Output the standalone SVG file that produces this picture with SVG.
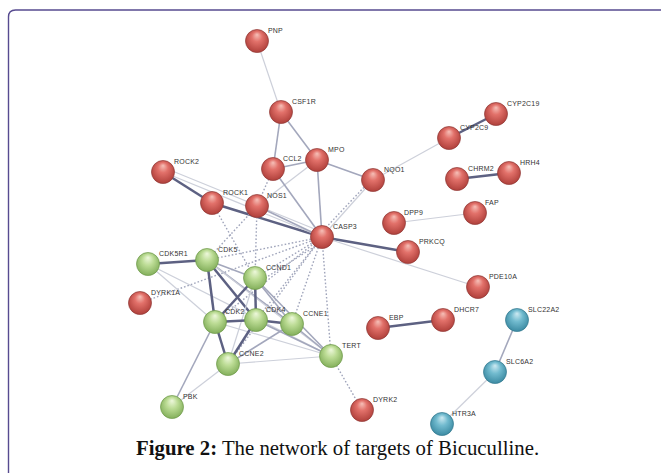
<svg xmlns="http://www.w3.org/2000/svg" width="661" height="473" viewBox="0 0 661 473">
<defs>
<radialGradient id="gr" cx="50%" cy="45%" r="55%" fx="50%" fy="22%">
<stop offset="0%" stop-color="#f6c0b8"/><stop offset="40%" stop-color="#e2716a"/><stop offset="100%" stop-color="#b0403b"/>
</radialGradient>
<radialGradient id="gg" cx="50%" cy="45%" r="55%" fx="50%" fy="22%">
<stop offset="0%" stop-color="#eef8dc"/><stop offset="45%" stop-color="#bcdc95"/><stop offset="100%" stop-color="#84b05c"/>
</radialGradient>
<radialGradient id="gb" cx="50%" cy="45%" r="55%" fx="50%" fy="22%">
<stop offset="0%" stop-color="#cdeaf2"/><stop offset="45%" stop-color="#72bbcf"/><stop offset="100%" stop-color="#3c8ba3"/>
</radialGradient>
</defs>
<style>
.r{fill:url(#gr);stroke:#8f3a36;stroke-width:0.7}
.g{fill:url(#gg);stroke:#6f9a4b;stroke-width:0.7}
.b{fill:url(#gb);stroke:#34788e;stroke-width:0.7}
text.l{font-family:"Liberation Sans",Arial,sans-serif;font-size:7px;fill:#333;letter-spacing:0.2px}
.e1{stroke:#cdd0da;stroke-width:1.2;fill:none}
.e2{stroke:#a3a7bc;stroke-width:1.6;fill:none}
.e3{stroke:#5d6182;stroke-width:2.5;fill:none}
.d{stroke:#a0a5bb;stroke-width:1.4;stroke-dasharray:1.6 2;fill:none}
.cap{font-family:"Liberation Serif","Times New Roman",serif;font-size:20.8px;fill:#111}
</style>
<rect width="661" height="473" fill="#fff"/>
<path d="M8.5,473 V17 Q8.5,10 15.5,10 H661" fill="none" stroke="#574b90" stroke-width="1.4"/>
<g id="connectors">
<line class="e1" x1="257" y1="41" x2="281" y2="112"/>
<line class="e2" x1="281" y1="112" x2="273" y2="169"/>
<line class="e2" x1="281" y1="112" x2="317" y2="160"/>
<line class="e2" x1="273" y1="169" x2="317" y2="160"/>
<line class="e2" x1="317" y1="160" x2="373" y2="180"/>
<line class="e2" x1="317" y1="160" x2="322" y2="237"/>
<line class="e1" x1="317" y1="160" x2="257" y2="206"/>
<line class="e2" x1="273" y1="169" x2="322" y2="237"/>
<line class="d" x1="273" y1="169" x2="257" y2="206"/>
<line class="e1" x1="373" y1="180" x2="322" y2="237"/>
<line class="d" x1="369" y1="182" x2="318" y2="236"/>
<line class="e1" x1="373" y1="180" x2="449" y2="138"/>
<line class="e3" x1="449" y1="138" x2="496" y2="114"/>
<line class="e3" x1="457" y1="179" x2="509" y2="173"/>
<line class="e1" x1="394" y1="223" x2="475" y2="213"/>
<line class="e3" x1="322" y1="237" x2="408" y2="252"/>
<line class="e1" x1="322" y1="237" x2="478" y2="287"/>
<line class="e3" x1="163" y1="172" x2="212" y2="203"/>
<line class="e3" x1="212" y1="203" x2="322" y2="237"/>
<line class="e1" x1="163" y1="172" x2="322" y2="237"/>
<line class="e1" x1="165" y1="168" x2="322" y2="232"/>
<line class="e2" x1="257" y1="206" x2="322" y2="237"/>
<line class="d" x1="212" y1="203" x2="255" y2="278"/>
<line class="d" x1="257" y1="206" x2="255" y2="278"/>
<line class="d" x1="257" y1="206" x2="207" y2="260"/>
<line class="d" x1="207" y1="260" x2="322" y2="237"/>
<line class="d" x1="140" y1="303" x2="322" y2="237"/>
<line class="d" x1="255" y1="278" x2="322" y2="237"/>
<line class="d" x1="259" y1="282" x2="325" y2="240"/>
<line class="d" x1="215" y1="322" x2="322" y2="237"/>
<line class="d" x1="256" y1="320" x2="322" y2="237"/>
<line class="d" x1="292" y1="324" x2="322" y2="237"/>
<line class="d" x1="228" y1="364" x2="322" y2="237"/>
<line class="d" x1="331" y1="356" x2="322" y2="237"/>
<line class="d" x1="331" y1="356" x2="362" y2="410"/>
<line class="e3" x1="148" y1="264" x2="207" y2="260"/>
<line class="e1" x1="148" y1="264" x2="215" y2="322"/>
<line class="e1" x1="148" y1="264" x2="331" y2="356"/>
<line class="e3" x1="207" y1="260" x2="215" y2="322"/>
<line class="e2" x1="207" y1="260" x2="255" y2="278"/>
<line class="e3" x1="207" y1="260" x2="256" y2="320"/>
<line class="e2" x1="207" y1="260" x2="292" y2="324"/>
<line class="e1" x1="207" y1="260" x2="331" y2="356"/>
<line class="e3" x1="255" y1="278" x2="215" y2="322"/>
<line class="e3" x1="255" y1="278" x2="256" y2="320"/>
<line class="e2" x1="255" y1="278" x2="292" y2="324"/>
<line class="e2" x1="255" y1="278" x2="331" y2="356"/>
<line class="e1" x1="255" y1="278" x2="228" y2="364"/>
<line class="e3" x1="215" y1="322" x2="256" y2="320"/>
<line class="e3" x1="256" y1="320" x2="292" y2="324"/>
<line class="e3" x1="215" y1="322" x2="228" y2="364"/>
<line class="e1" x1="215" y1="322" x2="331" y2="356"/>
<line class="e2" x1="215" y1="322" x2="172" y2="407"/>
<line class="e3" x1="256" y1="320" x2="228" y2="364"/>
<line class="e2" x1="256" y1="320" x2="331" y2="356"/>
<line class="e2" x1="292" y1="324" x2="228" y2="364"/>
<line class="e2" x1="292" y1="324" x2="331" y2="356"/>
<line class="e1" x1="228" y1="364" x2="331" y2="356"/>
<line class="e1" x1="228" y1="364" x2="172" y2="407"/>
<line class="e3" x1="378" y1="328" x2="443" y2="320"/>
<line class="e2" x1="517" y1="320" x2="495" y2="372"/>
<line class="e1" x1="495" y1="372" x2="442" y2="424"/>
</g>
<g id="n-PNP"><circle class="r" cx="257" cy="41" r="11.5"/><text class="l" x="268" y="33">PNP</text></g>
<g id="n-CSF1R"><circle class="r" cx="281" cy="112" r="11.5"/><text class="l" x="292" y="104">CSF1R</text></g>
<g id="n-MPO"><circle class="r" cx="317" cy="160" r="11.5"/><text class="l" x="328" y="152">MPO</text></g>
<g id="n-CCL2"><circle class="r" cx="273" cy="169" r="11.5"/><text class="l" x="283" y="161">CCL2</text></g>
<g id="n-ROCK2"><circle class="r" cx="163" cy="172" r="11.5"/><text class="l" x="174" y="164">ROCK2</text></g>
<g id="n-ROCK1"><circle class="r" cx="212" cy="203" r="11.5"/><text class="l" x="223" y="195">ROCK1</text></g>
<g id="n-NOS1"><circle class="r" cx="257" cy="206" r="11.5"/><text class="l" x="267" y="198">NOS1</text></g>
<g id="n-NQO1"><circle class="r" cx="373" cy="180" r="11.5"/><text class="l" x="384" y="172">NQO1</text></g>
<g id="n-CYP2C19"><circle class="r" cx="496" cy="114" r="11.5"/><text class="l" x="507" y="106">CYP2C19</text></g>
<g id="n-CYP2C9"><circle class="r" cx="449" cy="138" r="11.5"/><text class="l" x="460" y="130">CYP2C9</text></g>
<g id="n-CHRM2"><circle class="r" cx="457" cy="179" r="11.5"/><text class="l" x="468" y="171">CHRM2</text></g>
<g id="n-HRH4"><circle class="r" cx="509" cy="173" r="11.5"/><text class="l" x="520" y="165">HRH4</text></g>
<g id="n-DPP9"><circle class="r" cx="394" cy="223" r="11.5"/><text class="l" x="404" y="215">DPP9</text></g>
<g id="n-FAP"><circle class="r" cx="475" cy="213" r="11.5"/><text class="l" x="485" y="205">FAP</text></g>
<g id="n-CASP3"><circle class="r" cx="322" cy="237" r="11.5"/><text class="l" x="333" y="229">CASP3</text></g>
<g id="n-PRKCQ"><circle class="r" cx="408" cy="252" r="11.5"/><text class="l" x="419" y="244">PRKCQ</text></g>
<g id="n-PDE10A"><circle class="r" cx="478" cy="287" r="11.5"/><text class="l" x="489" y="279">PDE10A</text></g>
<g id="n-CDK5R1"><circle class="g" cx="148" cy="264" r="11.5"/><text class="l" x="159" y="256">CDK5R1</text></g>
<g id="n-CDK5"><circle class="g" cx="207" cy="260" r="11.5"/><text class="l" x="218" y="252">CDK5</text></g>
<g id="n-CCND1"><circle class="g" cx="255" cy="278" r="11.5"/><text class="l" x="266" y="270">CCND1</text></g>
<g id="n-DYRK1A"><circle class="r" cx="140" cy="303" r="11.5"/><text class="l" x="151" y="295">DYRK1A</text></g>
<g id="n-CDK2"><circle class="g" cx="215" cy="322" r="11.5"/><text class="l" x="225" y="314">CDK2</text></g>
<g id="n-CDK4"><circle class="g" cx="256" cy="320" r="11.5"/><text class="l" x="266" y="312">CDK4</text></g>
<g id="n-CCNE1"><circle class="g" cx="292" cy="324" r="11.5"/><text class="l" x="303" y="316">CCNE1</text></g>
<g id="n-TERT"><circle class="g" cx="331" cy="356" r="11.5"/><text class="l" x="342" y="348">TERT</text></g>
<g id="n-CCNE2"><circle class="g" cx="228" cy="364" r="11.5"/><text class="l" x="239" y="356">CCNE2</text></g>
<g id="n-PBK"><circle class="g" cx="172" cy="407" r="11.5"/><text class="l" x="183" y="399">PBK</text></g>
<g id="n-DYRK2"><circle class="r" cx="362" cy="410" r="11.5"/><text class="l" x="373" y="402">DYRK2</text></g>
<g id="n-EBP"><circle class="r" cx="378" cy="328" r="11.5"/><text class="l" x="389" y="320">EBP</text></g>
<g id="n-DHCR7"><circle class="r" cx="443" cy="320" r="11.5"/><text class="l" x="454" y="312">DHCR7</text></g>
<g id="n-SLC22A2"><circle class="b" cx="517" cy="320" r="11.5"/><text class="l" x="528" y="312">SLC22A2</text></g>
<g id="n-SLC6A2"><circle class="b" cx="495" cy="372" r="11.5"/><text class="l" x="506" y="364">SLC6A2</text></g>
<g id="n-HTR3A"><circle class="b" cx="442" cy="424" r="11.5"/><text class="l" x="452" y="416">HTR3A</text></g>
<text class="cap" x="136" y="455"><tspan font-weight="bold">Figure 2:</tspan> The network of targets of Bicuculline.</text>
</svg>
